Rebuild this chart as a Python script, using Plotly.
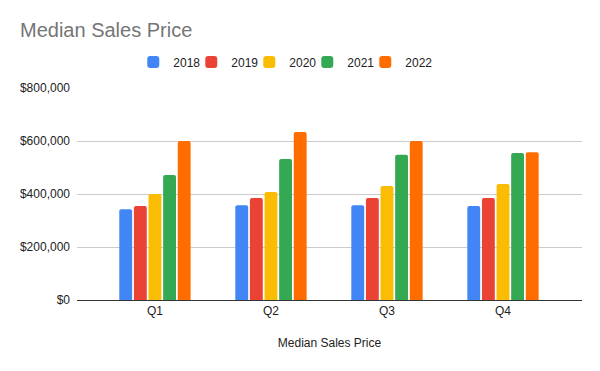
import plotly.graph_objects as go

quarters = ["Q1", "Q2", "Q3", "Q4"]
years = ["2018", "2019", "2020", "2021", "2022"]
values_2018 = [342000, 358000, 358000, 355000]
values_2019 = [355000, 385000, 385000, 385000]
values_2020 = [400000, 408000, 430000, 438000]
values_2021 = [472000, 532000, 548000, 555000]
values_2022 = [600000, 634000, 600000, 558000]
colors = ["#4285F4", "#EA4335", "#FBBC04", "#34A853", "#FF6D01"]

series = [values_2018, values_2019, values_2020, values_2021, values_2022]

fig = go.Figure()
for name, vals, col in zip(years, series, colors):
    fig.add_trace(go.Bar(x=quarters, y=vals, name=name, marker=dict(color=col, line=dict(width=0))))

# invisible legend spacer so the last legend label is not clipped
fig.add_trace(go.Scatter(x=[None], y=[None], mode="markers", name=" ",
                         marker=dict(color="rgba(0,0,0,0)"), hoverinfo="skip"))

font = "Liberation Sans, Arial, sans-serif"
W, H = 592, 363
fig.update_layout(
    width=W, height=H,
    paper_bgcolor="white", plot_bgcolor="white",
    margin=dict(l=69, r=18, t=80, b=71),
    barmode="group", bargap=0.37, bargroupgap=0.12,
    barcornerradius=2,
    font=dict(family=font, size=12, color="#222222"),
    title=dict(text="Median Sales Price", font=dict(family=font, size=20, color="#757575"),
               xref="container", x=12/W, xanchor="left",
               yref="container", y=1 - 22/H, yanchor="middle"),
    legend=dict(orientation="h", x=0.456, xanchor="center", y=1.123, yanchor="middle",
                entrywidth=13, font=dict(size=12, color="#222222"), itemclick=False),
    xaxis=dict(range=[-0.672, 3.681], showgrid=False, showline=True, linecolor="#333333",
               linewidth=1, ticks="", title=dict(text="Median Sales Price", standoff=21,
               font=dict(size=12, color="#222222"))),
    yaxis=dict(range=[0, 800000], tickvals=[0, 200000, 400000, 600000, 800000],
               ticktext=["$0", "$200,000", "$400,000", "$600,000", "$800,000"],
               ticklabelstandoff=6,
               gridcolor="#cccccc", gridwidth=1, zeroline=False, ticks="", showline=False),
)
fig.write_html("out.html")
